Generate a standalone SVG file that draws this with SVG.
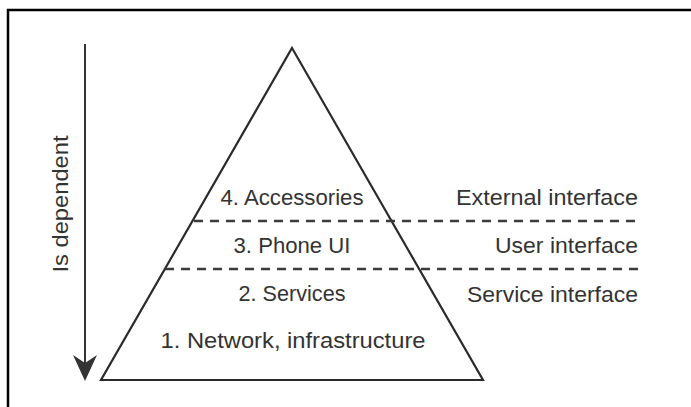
<svg xmlns="http://www.w3.org/2000/svg" width="691" height="407" viewBox="0 0 691 407">
  <style>
    .lbl { font-family: "Liberation Sans", Arial, sans-serif; font-size: 22.5px; fill: #333333; }
    .mid { text-anchor: middle; }
    .end { text-anchor: end; }
    .edge { fill: none; stroke: #2b2b2b; stroke-width: 2.2; }
    .dash { fill: none; stroke: #3a3a3a; stroke-width: 2.4; stroke-dasharray: 9 7; }
  </style>
  <rect x="0" y="0" width="691" height="407" fill="#ffffff"/>
  <g id="frame">
    <path d="M8,407 L8,10 L691,10" fill="none" stroke="#000000" stroke-width="2.5"/>
  </g>
  <g id="dependency-arrow">
    <line x1="85" y1="44" x2="85" y2="365" stroke="#333333" stroke-width="2"/>
    <path d="M85,381 L73,355 L85,363 L97,355 Z" fill="#333333"/>
    <text class="lbl mid" transform="translate(68,204) rotate(-90)" textLength="137" lengthAdjust="spacingAndGlyphs">Is dependent</text>
  </g>
  <g id="pyramid">
    <polygon class="edge" points="292,48 483,380 101,380"/>
  </g>
  <g id="connectors">
    <line class="dash" x1="194" y1="221" x2="636" y2="221"/>
    <line class="dash" x1="165" y1="269" x2="641" y2="269"/>
  </g>
  <g id="layer-4">
    <text class="lbl mid" x="292" y="205" textLength="143" lengthAdjust="spacingAndGlyphs">4. Accessories</text>
  </g>
  <g id="layer-3">
    <text class="lbl mid" x="292" y="253" textLength="117" lengthAdjust="spacingAndGlyphs">3. Phone UI</text>
  </g>
  <g id="layer-2">
    <text class="lbl mid" x="292" y="301" textLength="107" lengthAdjust="spacingAndGlyphs">2. Services</text>
  </g>
  <g id="layer-1">
    <text class="lbl mid" x="293" y="348" textLength="265" lengthAdjust="spacingAndGlyphs">1. Network, infrastructure</text>
  </g>
  <g id="external-interface">
    <text class="lbl end" x="638" y="205" textLength="182" lengthAdjust="spacingAndGlyphs">External interface</text>
  </g>
  <g id="user-interface">
    <text class="lbl end" x="638" y="253" textLength="143" lengthAdjust="spacingAndGlyphs">User interface</text>
  </g>
  <g id="service-interface">
    <text class="lbl end" x="638" y="302" textLength="171" lengthAdjust="spacingAndGlyphs">Service interface</text>
  </g>
</svg>
